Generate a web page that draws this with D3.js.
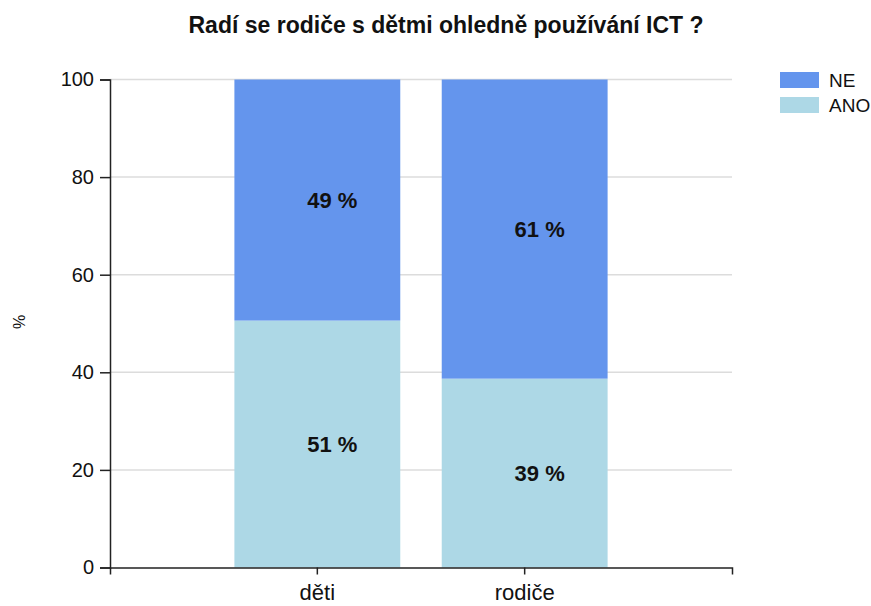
<!DOCTYPE html>
<html>
<head>
<meta charset="utf-8">
<script src="https://cdn.jsdelivr.net/npm/d3@7"></script>
<style>
  body { margin: 0; background: #fff; }
  text { font-family: "Liberation Sans", Arial, sans-serif; fill: #111; }
</style>
</head>
<body>
<svg id="chart" width="871" height="606"></svg>
<script>
const MARGIN = { top: 79.5, right: 139, bottom: 38.5, left: 110 };

// data
const groups = ["děti", "rodiče"];
const series = ["ANO", "NE"];
const ano = [50.6, 38.7];
const ne = [49.4, 61.3];
const yTicks = [0, 20, 40, 60, 80, 100];
const colors = { NE: "#6495ed", ANO: "#add8e6" };

const width = 871 - MARGIN.left - MARGIN.right;
const height = 606 - MARGIN.top - MARGIN.bottom;

const svg = d3.select("#chart");

svg.append("text")
  .attr("x", 446)
  .attr("y", 33)
  .attr("text-anchor", "middle")
  .style("font-size", "23px")
  .style("font-weight", "bold")
  .text("Radí se rodiče s dětmi ohledně používání ICT ?");

const g = svg.append("g")
  .attr("transform", "translate(" + MARGIN.left + "," + MARGIN.top + ")");

let x = d3.scaleBand()
  .domain(groups)
  .range([0, width])
  .paddingInner(0.2)
  .paddingOuter(0.6);

let y = d3.scaleLinear()
  .domain([0, 100])
  .range([height, 0]);

// grid
g.append("g")
  .selectAll("line")
  .data(yTicks.filter(d => d > 0))
  .join("line")
  .attr("x1", 0)
  .attr("x2", width)
  .attr("y1", d => y(d))
  .attr("y2", d => y(d))
  .attr("stroke", "#dcdcdc")
  .attr("stroke-width", 1.5);

let rows = groups.map((k, i) => ({ group: k, ANO: ano[i], NE: ne[i] }));
let stacked = d3.stack().keys(series)(rows);

g.append("g")
  .selectAll("g")
  .data(stacked)
  .join("g")
  .attr("fill", d => colors[d.key])
  .selectAll("rect")
  .data(d => d)
  .join("rect")
  .attr("x", d => x(d.data.group))
  .attr("y", d => y(d[1]))
  .attr("width", x.bandwidth())
  .attr("height", d => y(d[0]) - y(d[1]));

// value labels
g.append("g")
  .selectAll("g")
  .data(stacked)
  .join("g")
  .selectAll("text")
  .data(d => d)
  .join("text")
  .attr("x", d => x(d.data.group) + x.bandwidth() / 2 + 15)
  .attr("y", d => (y(d[0]) + y(d[1])) / 2)
  .attr("dy", "0.35em")
  .attr("text-anchor", "middle")
  .style("font-size", "22px")
  .style("font-weight", "bold")
  .text(d => Math.round(d[1] - d[0]) + " %");

// axes
g.append("g")
  .attr("transform", "translate(0," + height + ")")
  .call(d3.axisBottom(x).tickSize(7).tickPadding(10))
  .call(a => a.selectAll("path, line").attr("stroke", "#222").attr("stroke-width", 1.5))
  .selectAll("text")
  .style("font-size", "22px")
  .attr("fill", "#111");

g.append("g")
  .call(d3.axisLeft(y).tickValues(yTicks).tickSize(10).tickPadding(6))
  .call(a => a.selectAll("path, line").attr("stroke", "#222").attr("stroke-width", 1.5))
  .selectAll("text")
  .style("font-size", "20px")
  .attr("fill", "#111");

svg.append("text")
  .attr("transform", "translate(25,322) rotate(-90)")
  .attr("text-anchor", "middle")
  .style("font-size", "16px")
  .text("%");

// legend
const legendKeys = ["NE", "ANO"];
const legend = svg.append("g")
  .attr("transform", "translate(780,72)");
let item = legend.selectAll("g")
  .data(legendKeys)
  .join("g")
  .attr("transform", (d, i) => "translate(0," + i * 25 + ")");
item.append("rect")
  .attr("width", 39)
  .attr("height", 16)
  .attr("fill", d => colors[d]);
item.append("text")
  .attr("x", 49)
  .attr("y", 8)
  .attr("dy", "0.35em")
  .style("font-size", "19px")
  .text(d => d);
</script>
</body>
</html>
